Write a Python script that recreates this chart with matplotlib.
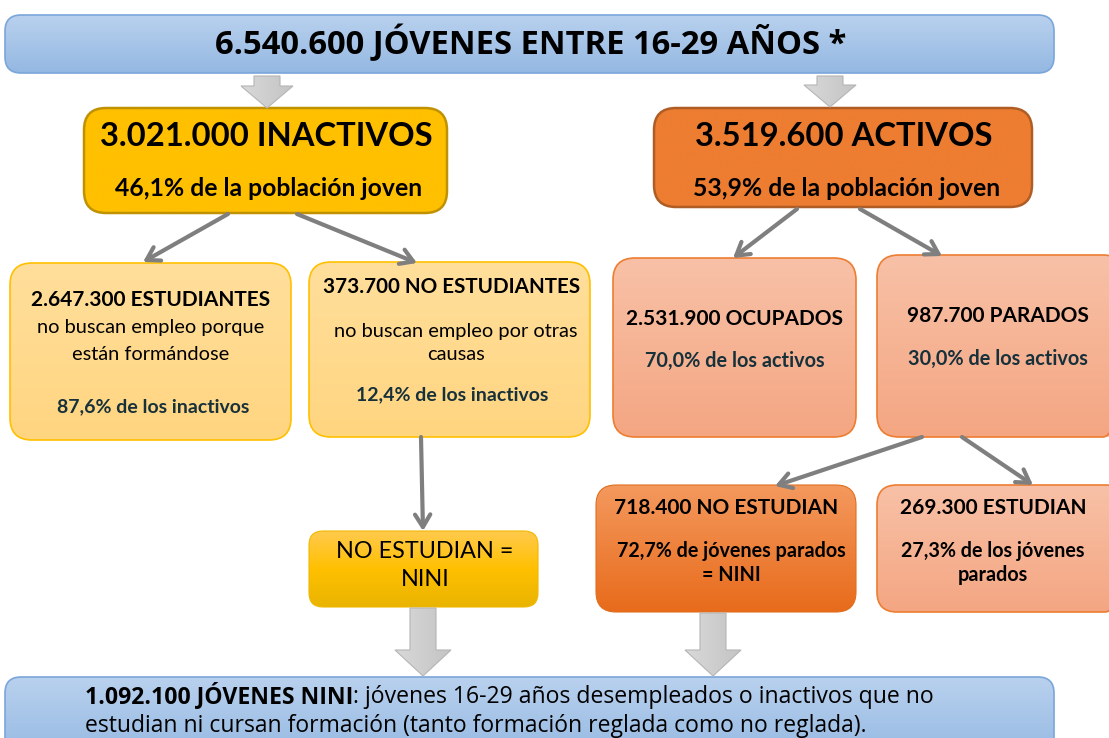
# Diagrama de flujo: jóvenes 16-29 años, actividad y NINI
import numpy as np
import matplotlib
matplotlib.use('Agg')
import matplotlib.pyplot as plt
import matplotlib.patches as mpatches
from matplotlib.colors import LinearSegmentedColormap

#--- datos / textos
total_txt   = '6.540.600 JÓVENES ENTRE 16-29 AÑOS *'
inact_txt   = ['3.021.000 INACTIVOS', '46,1% de la población joven']
activ_txt   = ['3.519.600 ACTIVOS', '53,9% de la población joven']
estud_txt   = ['2.647.300 ESTUDIANTES', 'no buscan empleo porque',
               'están formándose', '87,6% de los inactivos']
noest_txt   = ['373.700 NO ESTUDIANTES', 'no buscan empleo por otras',
               'causas', '12,4% de los inactivos']
ocup_txt    = ['2.531.900 OCUPADOS', '70,0% de los activos']
parad_txt   = ['987.700 PARADOS', '30,0% de los activos']
nini1_txt   = ['NO ESTUDIAN =', 'NINI']
noestud_txt = ['718.400 NO ESTUDIAN', '72,7% de jóvenes parados', '= NINI']
estud2_txt  = ['269.300 ESTUDIAN', '27,3% de los jóvenes', 'parados']
nini_bold   = '1.092.100 JÓVENES NINI'
nini_rest   = ': jóvenes 16-29 años desempleados o inactivos que no'
nini_line2  = 'estudian ni cursan formación (tanto formación reglada como no reglada).'

W, H = 1109, 738
fig = plt.figure(figsize=(W/100, H/100), dpi=100)
ax = fig.add_axes([0, 0, 1, 1])
ax.set_axis_off()

SANS = ['Lato', 'DejaVu Sans']
NARROW = ['Open Sans', 'DejaVu Sans']
DARK = '#17313a'


def gbox(x0, y0, x1, y1, ctop, cbot, edge, r=18, lw=1.2):
    p = mpatches.FancyBboxPatch((x0, y0), x1-x0, y1-y0,
                                boxstyle='round,pad=0,rounding_size=%d' % r,
                                fc='none', ec=edge, lw=lw, zorder=3)
    ax.add_patch(p)
    cols = ctop if isinstance(ctop, list) else [ctop, cbot]
    cmap = LinearSegmentedColormap.from_list('g', cols)
    grad = np.linspace(0, 1, 256)[:, None]
    im = ax.imshow(grad, cmap=cmap, extent=(x0, x1, y1, y0),
                   aspect='auto', zorder=2, interpolation='bilinear')
    im.set_clip_path(p)


def block_arrow(x, y0, y1, shaft=26, head=52, hl=26):
    pts = [(x-shaft/2, y0), (x+shaft/2, y0), (x+shaft/2, y1-hl),
           (x+head/2, y1-hl), (x, y1), (x-head/2, y1-hl), (x-shaft/2, y1-hl)]
    p = mpatches.Polygon(pts, closed=True, fc='none', ec='#b5b5b5',
                         lw=0.8, zorder=4)
    ax.add_patch(p)
    cmap = LinearSegmentedColormap.from_list('ga', ['#d9d9d9', '#c4c4c4'])
    grad = np.linspace(0, 1, 64)[None, :]
    im = ax.imshow(grad, cmap=cmap, extent=(x-head/2, x+head/2, y1, y0),
                   aspect='auto', zorder=3)
    im.set_clip_path(p)


def line_arrow(x0, y0, x1, y1):
    ax.annotate('', xy=(x1, y1), xytext=(x0, y0),
                arrowprops=dict(arrowstyle='->,head_length=0.9,head_width=0.55',
                                color='#7f7f7f', lw=3, shrinkA=0, shrinkB=0),
                zorder=5)


def txt(x, y, s, size, bold=True, color='black', family=SANS):
    ax.text(x, y, s, ha='center', va='center', fontsize=size,
            fontweight='bold' if bold else 'normal', color=color,
            family=family, zorder=6)


#--- cajas
gbox(5, 15, 1054, 73, '#b9d1ee', '#94b8e2', '#7aa6da', r=16)
gbox(84, 108, 447, 213, '#ffc000', '#ffc000', '#c09100', r=22, lw=1.8)
gbox(654, 108, 1032, 207, '#ed7d31', '#ed7d31', '#b05d25', r=22, lw=1.8)
gbox(10, 263, 291, 440, '#ffdf9c', '#ffd580', '#ffc000', r=22)
gbox(309, 262, 590, 437, '#ffdf9c', '#ffd580', '#ffc000', r=22)
gbox(613, 258, 856, 437, '#f8c1a7', '#f4a682', '#ed7d31', r=22)
gbox(877, 255, 1125, 437, '#f8c1a7', '#f4a682', '#ed7d31', r=22)
gbox(309, 531, 538, 607, ['#ffca4d', '#ffc000', '#e9b400'], None,
     '#f0b800', r=14, lw=0.8)
gbox(596, 485, 856, 612, '#f4995e', '#e86b1b', '#e0701e', r=20, lw=0.8)
gbox(877, 485, 1125, 612, '#f8c1a7', '#f4a682', '#ed7d31', r=20)
gbox(5, 677, 1054, 760, '#b9d1ee', '#94b8e2', '#7aa6da', r=16)

#--- flechas
block_arrow(267, 76, 108, hl=22)
block_arrow(830, 76, 107, hl=22)
block_arrow(423, 608, 676, hl=26, head=56)
block_arrow(713, 613, 676, hl=26, head=56)

line_arrow(228, 214, 143, 262)
line_arrow(297, 214, 417, 263)
line_arrow(797, 209, 733, 258)
line_arrow(860, 209, 942, 256)
line_arrow(421, 437, 423, 531)
line_arrow(922, 437, 775, 486)
line_arrow(962, 437, 1033, 485)

#--- textos
txt(531, 43, total_txt, 23.6, family=NARROW)

txt(266, 137, inact_txt[0], 23.6)
txt(269, 189, inact_txt[1], 17.8)
txt(844, 137, activ_txt[0], 23.6)
txt(847, 189, activ_txt[1], 17.8)

txt(151, 300, estud_txt[0], 15)
txt(151, 328, estud_txt[1], 14.4, bold=False)
txt(151, 354, estud_txt[2], 14.4, bold=False)
txt(153, 407, estud_txt[3], 14, color=DARK)

txt(452, 287, noest_txt[0], 14.9)
txt(456, 331, noest_txt[1], 14.4, bold=False)
txt(456, 354, noest_txt[2], 14.4, bold=False)
txt(452, 395, noest_txt[3], 14, color=DARK)

txt(734, 319, ocup_txt[0], 15)
txt(735, 361, ocup_txt[1], 14.3, color=DARK)
txt(998, 316, parad_txt[0], 15)
txt(998, 359, parad_txt[1], 14.3, color=DARK)

txt(425, 551, nini1_txt[0], 16.8, bold=False)
txt(425, 580, nini1_txt[1], 16.8, bold=False)

txt(726, 508, noestud_txt[0], 15)
txt(731, 551, noestud_txt[1], 14.2)
txt(731, 575, noestud_txt[2], 14.2)
txt(993, 508, estud2_txt[0], 15)
txt(993, 551, estud2_txt[1], 14.2)
txt(993, 575, estud2_txt[2], 14.2)

t1 = ax.text(85, 709, nini_bold, ha='left', va='bottom', fontsize=16.6,
             fontweight='bold', family=NARROW, zorder=6)
ax.annotate(nini_rest, xy=(1, 0), xycoords=t1, ha='left', va='bottom',
            fontsize=16.6, family=NARROW, zorder=6)
ax.text(85, 738, nini_line2, ha='left', va='bottom', fontsize=16.5,
        family=NARROW, zorder=6)

ax.set_xlim(0, W)
ax.set_ylim(H, 0)
fig.savefig('out.png', dpi=100)
